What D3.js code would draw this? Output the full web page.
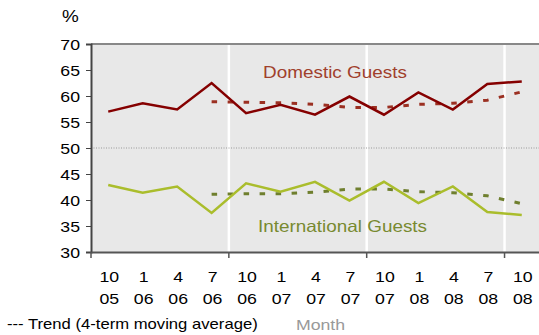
<!DOCTYPE html>
<html><head><meta charset="utf-8">
<script src="https://cdn.jsdelivr.net/npm/d3@7"></script>
<style>body{margin:0;background:#fff}svg{display:block;font-family:"Liberation Sans",Arial,sans-serif}</style>
</head><body><svg id="c" width="539" height="335"></svg>
<script>
const months = ["10","1","4","7","10","1","4","7","10","1","4","7","10"];
const years  = ["05","06","06","06","06","07","07","07","07","08","08","08","08"];
const domestic = [57.0,58.6,57.4,62.5,56.7,58.3,56.4,59.9,56.4,60.7,57.4,62.3,62.8];
const international = [42.9,41.4,42.6,37.5,43.2,41.6,43.5,39.9,43.5,39.4,42.6,37.7,37.1];
const domesticTrend = [null,null,null,58.9,58.8,58.7,58.4,57.8,57.8,58.4,58.6,59.2,60.8];
const internationalTrend = [null,null,null,41.1,41.2,41.2,41.5,42.1,42.1,41.6,41.4,40.8,39.3];
const yTicks = [30,35,40,45,50,55,60,65,70];
const yearBoundaries = [4,8,12];

const svg = d3.select("#c");
const L=91, R=539, T=44, B=252;
const SX = 1.18;
const idx = d3.range(months.length);
const x = d3.scaleBand().domain(idx).range([L,R]).paddingInner(0).paddingOuter(0);
const cx = i => x(i)+x.bandwidth()/2;
const y = d3.scaleLinear().domain([30,70]).range([B,T]);

function txt(g, tx, ty, size, sx, anchor, fill, s){
  return g.append("text").attr("transform",`translate(${tx},${ty}) scale(${sx},1)`)
    .attr("text-anchor",anchor).attr("font-size",size).attr("fill",fill).text(s);
}

svg.append("rect").attr("x",L).attr("y",T).attr("width",R-L).attr("height",B-T).attr("fill","#e8e8e8");
svg.selectAll(".vg").data(yearBoundaries).enter().append("line")
  .attr("x1",d=>x(d)).attr("x2",d=>x(d)).attr("y1",T).attr("y2",B)
  .attr("stroke","#fff").attr("stroke-width",2.5);
svg.append("line").attr("x1",L).attr("x2",R).attr("y1",y(50)).attr("y2",y(50))
  .attr("stroke","#999").attr("stroke-width",1).attr("stroke-dasharray","1,1.5");
svg.append("line").attr("x1",L).attr("x2",R).attr("y1",T).attr("y2",T).attr("stroke","#888").attr("stroke-width",2);

// y axis
const ya = svg.append("g").attr("transform",`translate(${L},0)`)
  .call(d3.axisLeft(y).tickValues(yTicks).tickSize(5).tickFormat(""));
ya.select(".domain").attr("stroke","#444").attr("stroke-width",2);
ya.selectAll(".tick line").attr("stroke","#444");
yTicks.forEach(v => txt(svg, 80, y(v)+5.5, 15, SX, "end", "#000", String(v)));

// x axis
const xa = svg.append("g").attr("transform",`translate(0,${B})`)
  .call(d3.axisBottom(x).tickValues([]).tickSizeOuter(0));
xa.select(".domain").attr("stroke","#555").attr("stroke-width",2);
svg.selectAll(".xt").data([0,...yearBoundaries]).enter().append("line")
  .attr("x1",d=>x(d)).attr("x2",d=>x(d)).attr("y1",B).attr("y2",B+6).attr("stroke","#555").attr("stroke-width",1.5);
idx.forEach(i => {
  txt(svg, cx(i)+1, 282, 15, SX, "middle", "#000", months[i]);
  txt(svg, cx(i)+1, 304, 15, SX, "middle", "#000", years[i]);
});

const line = d3.line().defined(d=>d!=null).x((d,i)=>cx(i)).y(d=>y(d));
svg.append("path").datum(domesticTrend).attr("d",line).attr("fill","none")
  .attr("stroke","#9b3022").attr("stroke-width",3).attr("stroke-dasharray","5.5,10.5");
svg.append("path").datum(internationalTrend).attr("d",line).attr("fill","none")
  .attr("stroke","#6f7f2e").attr("stroke-width",3).attr("stroke-dasharray","5.5,10.5");
svg.append("path").datum(domestic).attr("d",line).attr("fill","none")
  .attr("stroke","#850000").attr("stroke-width",2.5);
svg.append("path").datum(international).attr("d",line).attr("fill","none")
  .attr("stroke","#aabd2c").attr("stroke-width",2.5);

txt(svg, 335, 77.5, 16.3, 1.16, "middle", "#a0402c", "Domestic Guests");
txt(svg, 342.5, 231.5, 16.3, 1.16, "middle", "#788a30", "International Guests");
txt(svg, 62, 21.5, 16, SX, "start", "#000", "%");
txt(svg, 7, 329, 14, 1.19, "start", "#000", "--- Trend (4-term moving average)");
txt(svg, 320.5, 330, 15, SX, "middle", "#999", "Month");
</script></body></html>
